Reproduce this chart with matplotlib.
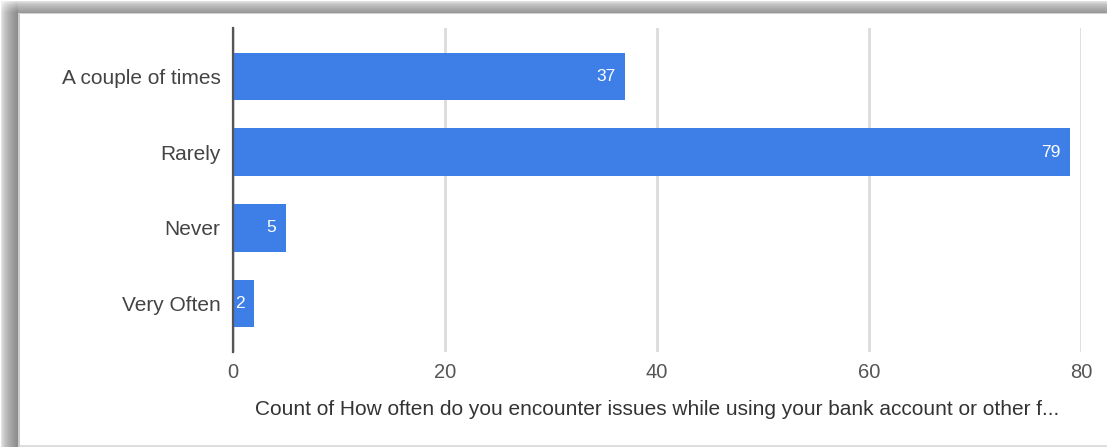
import numpy as np
import matplotlib
matplotlib.use("Agg")
import matplotlib.pyplot as plt

categories = ["A couple of times", "Rarely", "Never", "Very Often"]
counts = [37, 79, 5, 2]
xticks = [0, 20, 40, 60, 80]
xlabel = "Count of How often do you encounter issues while using your bank account or other f..."

W, H = 1107, 447
plt.rcParams['font.family'] = ['Liberation Sans', 'DejaVu Sans']
fig = plt.figure(figsize=(W / 100, H / 100), dpi=100)

# screenshot frame with shadow
bg = fig.add_axes([0, 0, 1, 1])
bg.set_xlim(0, W)
bg.set_ylim(H, 0)
bg.axis('off')
img = np.ones((H, W))
tx = np.sqrt(np.linspace(0, 1, 18))
ty = np.sqrt(np.linspace(0, 1, 13))
img[:, :18] = (1.0 - 0.45 * tx)[None, :]
img[:, 18:20] = 0.8
img[:13, 18:] = (1.0 - 0.40 * ty)[:, None]
img[:13, :18] = 1.0 - 0.45 * ty[:, None] * tx[None, :]
img[13:14, 18:] = 0.82
img[445:, 20:] = 0.87
bg.imshow(img, cmap='gray', vmin=0, vmax=1, extent=(0, W, H, 0), aspect='auto', interpolation='nearest')

left = 233 / W
right = 1081 / W
top = 28
bottom = 352
ax = fig.add_axes([left, (H - bottom) / H, right - left, (bottom - top) / H])
ax.set_facecolor('none')

y = np.arange(len(categories))
bars = ax.barh(y, counts, height=0.63, color='#3d7fe6', zorder=3)
ax.set_ylim(3.64, -0.64)
ax.set_xlim(0, 80)

for b, v in zip(bars, counts):
    ax.annotate(str(v), (b.get_width(), b.get_y() + b.get_height() / 2),
                xytext=(-7, 0), textcoords='offset points', ha='right', va='center',
                color='white', fontsize=12.5, zorder=4)

ax.set_yticks(y)
ax.set_yticklabels(categories, fontsize=15, color='#444444')
ax.set_xticks(xticks)
ax.set_xticklabels([str(t) for t in xticks], fontsize=14.5, color='#555555')
ax.tick_params(axis='both', length=0)
ax.tick_params(axis='y', pad=9)
ax.tick_params(axis='x', pad=8)
ax.grid(axis='x', color='#dcdcdc', linewidth=2, zorder=0)
for s in ['top', 'right', 'bottom']:
    ax.spines[s].set_visible(False)
ax.spines['left'].set_color('#555555')
ax.spines['left'].set_linewidth(1.6)
ax.spines['left'].set_zorder(5)
ax.set_xlabel(xlabel, fontsize=15, color='#333333', labelpad=13)

fig.savefig('out.png', dpi=100)
